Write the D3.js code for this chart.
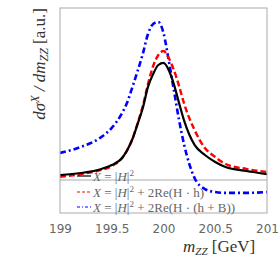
<!DOCTYPE html>
<html>
<head>
<meta charset="utf-8">
<script src="https://cdn.jsdelivr.net/npm/d3@7"></script>
<style>
  body { margin: 0; background: #fff; }
  svg { display: block; }
</style>
</head>
<body>
<svg></svg>
<script>
// Setting
const width = 279;
const height = 261;

// Data (arbitrary units)
const mZZ      = [199.0, 199.2, 199.4, 199.5, 199.6, 199.65, 199.7, 199.75, 199.8, 199.85, 199.9, 199.95, 200.0, 200.05, 200.1, 200.15, 200.2, 200.3, 200.4, 200.5, 200.6, 200.8, 201.0];
const sigmaH2  = [18.5, 19.5, 21.5, 23.4, 26.8, 30.7, 36.1, 43.4, 51.2, 61.5, 67.8, 72.2, 73.2, 69.8, 62.9, 53.7, 44.9, 33.2, 28.3, 24.9, 22.4, 20.5, 19.0];
const sigmaHh  = [17.6, 19.0, 21.0, 22.9, 26.8, 30.7, 36.1, 43.9, 52.2, 62.9, 71.7, 77.1, 79.0, 75.6, 69.8, 62.0, 53.2, 40.5, 31.7, 27.3, 23.9, 21.5, 20.0];
const sigmaHhB = [29.3, 32.2, 37.1, 41.5, 48.8, 54.0, 61.5, 69.3, 77.6, 87.3, 92.2, 93.2, 87.8, 74.6, 60.0, 45.4, 33.2, 17.1, 11.7, 10.2, 9.8, 9.8, 10.2];
const xTicks   = [199, 199.5, 200, 200.5, 201];

const margin = {left: 60, right: 12, top: 8, bottom: 48};

const svg = d3.select("svg")
  .attr("width", width)
  .attr("height", height);

const x = d3.scaleLinear()
  .domain([199, 201])
  .range([margin.left, width - margin.right]);

const y = d3.scaleLinear()
  .domain([0, 100])
  .range([height - margin.bottom, margin.top]);

const serif = "'Liberation Serif', 'DejaVu Serif', serif";

svg.append("defs").append("clipPath")
  .attr("id", "plot")
  .append("rect")
  .attr("x", x.range()[0])
  .attr("y", y.range()[1])
  .attr("width", x.range()[1] - x.range()[0])
  .attr("height", y.range()[0] - y.range()[1]);

const series = [
  {vals: sigmaH2,  color: "#000", width: 2.2, dash: null,      key: "3,2"},
  {vals: sigmaHh,  color: "#f00", width: 2.4, dash: "6,3",     key: "3,2"},
  {vals: sigmaHhB, color: "#00f", width: 2.6, dash: "6,3,2,3", key: "3,2,1,2"}
];

const line = d3.line()
  .x((d, i) => x(mZZ[i]))
  .y(d => y(d))
  .curve(d3.curveMonotoneX);

// legend frame top edge
svg.append("line")
  .attr("x1", x.range()[0]).attr("x2", x.range()[1])
  .attr("y1", 180).attr("y2", 180)
  .attr("stroke", "#aaa");

svg.append("g")
  .attr("clip-path", "url(#plot)")
  .selectAll("path")
  .data(series.slice().reverse())
  .enter()
  .append("path")
  .attr("fill", "none")
  .attr("stroke", d => d.color)
  .attr("stroke-width", d => d.width)
  .attr("stroke-dasharray", d => d.dash)
  .attr("d", d => line(d.vals));

// axes frame
svg.append("rect")
  .attr("x", x.range()[0])
  .attr("y", y.range()[1])
  .attr("width", x.range()[1] - x.range()[0])
  .attr("height", y.range()[0] - y.range()[1])
  .attr("fill", "none")
  .attr("stroke", "#aaa");

// x ticks
const xAxis = svg.append("g")
  .attr("transform", `translate(0, ${height - margin.bottom})`)
  .call(d3.axisBottom(x).tickValues(xTicks).tickSize(0).tickPadding(11).tickFormat(d3.format("")));
xAxis.select(".domain").remove();
xAxis.selectAll("text")
  .style("font-family", "'DejaVu Sans', sans-serif")
  .style("font-size", "12px")
  .attr("fill", "#666");

// x label
const xl = svg.append("text")
  .attr("x", 183)
  .attr("y", 252)
  .style("font-family", serif)
  .style("font-size", "17px")
  .attr("fill", "#333");
xl.append("tspan").attr("font-style", "italic").text("m");
xl.append("tspan").attr("font-style", "italic").attr("font-size", "11px").attr("dy", 3).text("ZZ");
xl.append("tspan").attr("dy", -3).text(" [GeV]");

// y label
const yl = svg.append("text")
  .attr("transform", "translate(45, 8) rotate(-90)")
  .attr("text-anchor", "end")
  .style("font-family", serif)
  .style("font-size", "17px")
  .attr("fill", "#333");
yl.append("tspan").attr("font-style", "italic").text("dσ");
yl.append("tspan").attr("font-style", "italic").attr("font-size", "12px").attr("dy", -6).text("X");
yl.append("tspan").attr("font-style", "italic").attr("dy", 6).text(" / dm");
yl.append("tspan").attr("font-style", "italic").attr("font-size", "12px").attr("dy", 3).text("ZZ");
yl.append("tspan").attr("dy", -3).text("  [a.u.]");

// legend
const legendRows = [
  {s: series[0], y: 176, extra: ""},
  {s: series[1], y: 192, extra: " + 2Re(H · h)"},
  {s: series[2], y: 207, extra: " + 2Re(H · (h + B))"}
];

const legend = svg.append("g");
legend.selectAll("line")
  .data(legendRows)
  .enter()
  .append("line")
  .attr("x1", 77).attr("x2", 91)
  .attr("y1", d => d.y).attr("y2", d => d.y)
  .attr("stroke", d => d.s.color)
  .attr("stroke-width", 1.2)
  .attr("stroke-dasharray", d => d.s.dash ? d.s.key : null);

legend.selectAll("text")
  .data(legendRows)
  .enter()
  .append("text")
  .attr("x", 93)
  .attr("y", d => d.y + 4.5)
  .style("font-family", serif)
  .style("font-size", "13px")
  .attr("fill", "#666")
  .each(function(d) {
    const t = d3.select(this);
    t.append("tspan").attr("font-style", "italic").text("X");
    t.append("tspan").text(" = |");
    t.append("tspan").attr("font-style", "italic").text("H");
    t.append("tspan").text("|");
    t.append("tspan").attr("font-size", "9px").attr("dy", -5).text("2");
    t.append("tspan").attr("dy", 5).text(d.extra);
  });
</script>
</body>
</html>
